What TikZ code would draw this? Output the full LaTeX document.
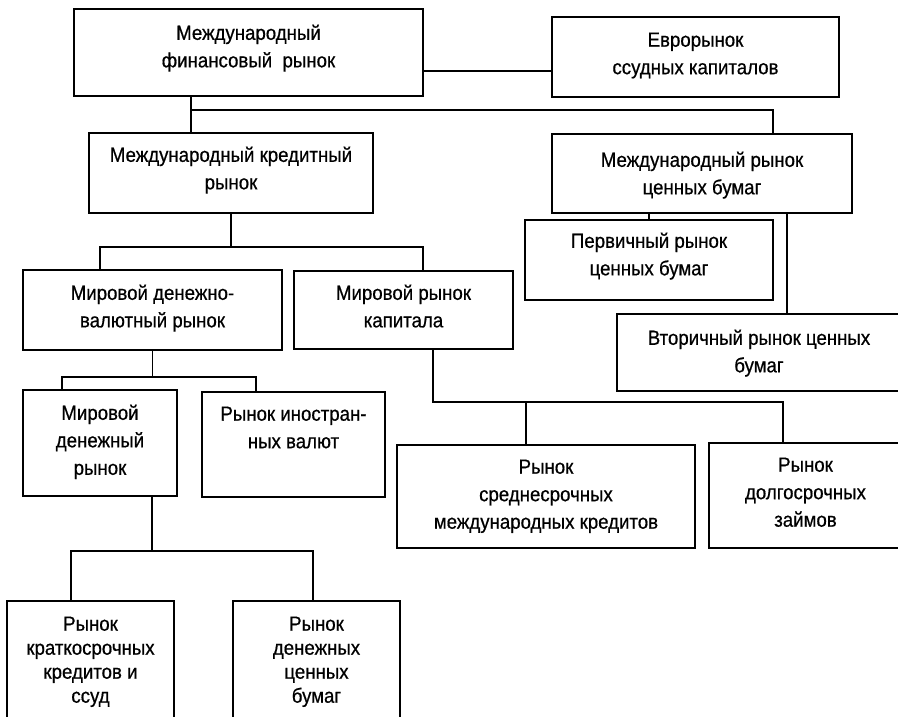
\documentclass[tikz,border=0pt]{standalone}
\usepackage{fontspec}
\setmainfont{Liberation Sans}[FakeStretch=0.91,FakeBold=0.6]
\begin{document}
\begin{tikzpicture}[x=1pt,y=-1pt,
  box/.style={draw, line width=1.2pt, rectangle, inner sep=0pt},
  txt/.style={anchor=north, align=center, inner sep=0pt, font=\fontsize{20.5}{27.5}\selectfont},
  txtb/.style={txt, font=\fontsize{20.5}{24}\selectfont},
  conn/.style={line width=1.1pt}]
\useasboundingbox (0,0) rectangle (898,717);
\clip (0,0) rectangle (898,717);
% boxes
\node[box, minimum width=349pt, minimum height=87pt] (fin) at (248.5,52.5) {};
\node[box, minimum width=287pt, minimum height=80pt] (euro) at (695.5,57) {};
\node[box, minimum width=284pt, minimum height=80pt] (cred) at (231,173) {};
\node[box, minimum width=300pt, minimum height=79pt] (sec) at (702,173.5) {};
\node[box, minimum width=248pt, minimum height=80pt] (prim) at (649,260) {};
\node[box, minimum width=284pt, minimum height=77pt] (sec2) at (759,352.5) {};
\node[box, minimum width=259pt, minimum height=80pt] (mdv) at (152.5,310) {};
\node[box, minimum width=219pt, minimum height=78pt] (cap) at (403.5,310) {};
\node[box, minimum width=154pt, minimum height=106pt] (mden) at (100,443) {};
\node[box, minimum width=183pt, minimum height=105pt] (valut) at (293.5,444.5) {};
\node[box, minimum width=298pt, minimum height=103pt] (sred) at (546,496.5) {};
\node[box, minimum width=193pt, minimum height=105pt] (dolg) at (805.5,495.5) {};
\node[box, minimum width=167pt, minimum height=130pt] (krat) at (90.5,666) {};
\node[box, minimum width=167pt, minimum height=130pt] (denb) at (316.5,666) {};
% texts
\node[txt] (fint) at ([yshift=-16pt]fin.north) {Международный\\финансовый~ рынок};
\node[txt] (eurot) at ([yshift=-16pt]euro.north) {Еврорынок\\ссудных капиталов};
\node[txt] (credt) at ([yshift=-14pt]cred.north) {Международный кредитный\\рынок};
\node[txt] (sect) at ([yshift=-18pt]sec.north) {Международный рынок\\ценных бумаг};
\node[txt] (primt) at ([yshift=-13pt]prim.north) {Первичный рынок\\ценных бумаг};
\node[txt] (sec2t) at ([yshift=-16pt]sec2.north) {Вторичный рынок ценных\\бумаг};
\node[txt] (mdvt) at ([yshift=-15pt]mdv.north) {Мировой денежно-\\валютный рынок};
\node[txt] (capt) at ([yshift=-14pt]cap.north) {Мировой рынок\\капитала};
\node[txt] (mdent) at ([yshift=-15pt]mden.north) {Мировой\\денежный\\рынок};
\node[txt] (valutt) at ([yshift=-15pt]valut.north) {Рынок иностран-\\ных валют};
\node[txt] (sredt) at ([yshift=-15pt]sred.north) {Рынок\\среднесрочных\\международных кредитов};
\node[txt] (dolgt) at ([yshift=-15pt]dolg.north) {Рынок\\долгосрочных\\займов};
\node[txtb] (kratt) at ([yshift=-16pt]krat.north) {Рынок\\краткосрочных\\кредитов и\\ссуд};
\node[txtb] (denbt) at ([yshift=-16pt]denb.north) {Рынок\\денежных\\ценных\\бумаг};
% connectors
\coordinate (e1) at (0,71);
\draw[conn] (e1 -| fin.east) -- (e1 -| euro.west);
\coordinate (j1) at (191,110);
\coordinate (j1r) at (773,110);
\draw[conn] (j1 |- fin.south) -- (j1 |- cred.north);
\draw[conn] (j1) -- (j1r) -- (j1r |- sec.north);
\draw[conn] (prim.north |- sec.south) -- (prim.north);
\coordinate (s2) at (787,0);
\draw[conn] (s2 |- sec.south) -- (s2 |- sec2.north);
\coordinate (c2l) at (100,247);
\coordinate (c2r) at (423,247);
\draw[conn] (cred.south) -- (cred.south |- c2l);
\draw[conn] (c2l |- mdv.north) -- (c2l) -- (c2r) -- (c2r |- cap.north);
\coordinate (m3l) at (62,377);
\coordinate (m3r) at (256,377);
\draw[conn] (mdv.south) -- (mdv.south |- m3l);
\draw[conn] (m3l |- mden.north) -- (m3l) -- (m3r) -- (m3r |- valut.north);
\coordinate (k3a) at (433,402);
\coordinate (k3b) at (526,402);
\coordinate (k3r) at (783,402);
\draw[conn] (k3a |- cap.south) -- (k3a) -- (k3r) -- (k3r |- dolg.north);
\draw[conn] (k3b) -- (k3b |- sred.north);
\coordinate (m4) at (152,551);
\coordinate (d4l) at (71,551);
\coordinate (d4r) at (313,551);
\draw[conn] (m4 |- mden.south) -- (m4);
\draw[conn] (d4l |- krat.north) -- (d4l) -- (d4r) -- (d4r |- denb.north);
\end{tikzpicture}
\end{document}
